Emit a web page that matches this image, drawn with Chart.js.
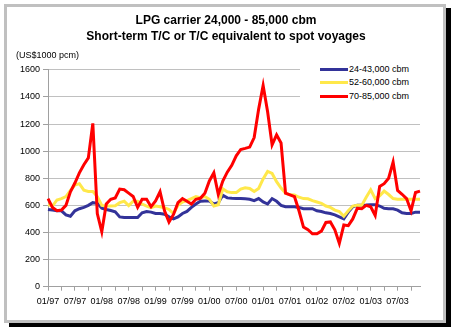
<!DOCTYPE html>
<html>
<head>
<meta charset="utf-8">
<script src="https://cdn.jsdelivr.net/npm/chart.js@4"></script>
<style>
  html, body { margin: 0; padding: 0; background: #fff; width: 452px; height: 328px; overflow: hidden; }
  #frame { position: absolute; left: 4px; top: 4px; width: 436px; height: 313px; border: 3px solid #c0c0c0; box-shadow: 5px 4px 0 0 #000; background: #fff; }
  #c { position: absolute; left: 0; top: 0; }
  #legend { position: absolute; left: 300px; top: 61px; width: 122px; height: 44px; background: #fff; font-family: 'Liberation Sans', Arial, sans-serif; font-size: 9px; color: #000; }
  .row { position: absolute; left: 0; height: 12px; width: 122px; }
  .sw { position: absolute; left: 20px; top: 5px; width: 28px; height: 3px; }
  .tx { position: absolute; left: 49px; top: 0; line-height: 12px; white-space: nowrap; }
</style>
</head>
<body>
<div id="frame"></div>
<canvas id="c" width="452" height="328"></canvas>
<div id="legend"></div>
<script>
const titleLines = ["LPG carrier 24,000 - 85,000 cbm", "Short-term T/C or T/C equivalent to spot voyages"];
const unitLabel = "(US$1000 pcm)";
const seriesNames = ["24-43,000 cbm", "52-60,000 cbm", "70-85,000 cbm"];
const months = [
 "01/97","02/97","03/97","04/97","05/97","06/97","07/97","08/97","09/97","10/97","11/97","12/97",
 "01/98","02/98","03/98","04/98","05/98","06/98","07/98","08/98","09/98","10/98","11/98","12/98",
 "01/99","02/99","03/99","04/99","05/99","06/99","07/99","08/99","09/99","10/99","11/99","12/99",
 "01/00","02/00","03/00","04/00","05/00","06/00","07/00","08/00","09/00","10/00","11/00","12/00",
 "01/01","02/01","03/01","04/01","05/01","06/01","07/01","08/01","09/01","10/01","11/01","12/01",
 "01/02","02/02","03/02","04/02","05/02","06/02","07/02","08/02","09/02","10/02","11/02","12/02",
 "01/03","02/03","03/03","04/03","05/03","06/03","07/03","08/03","09/03","10/03","11/03","12/03"
];
const small = [570,565,560,560,530,520,560,575,585,600, 620,615,580,570,562,552,515,510,510,510,
 510,545,555,550,540,540,535,515,500,515, 540,555,585,610,630,632,632,610,620,675,
 655,652,650,650,648,645,635,650,625,610, 650,630,600,590,590,590,585,575,575,575,
 560,555,545,540,530,515,500,550,590,600, 600,602,605,605,595,578,575,575,565,545,
 540,540,550,550];
const medium = [605,595,640,650,665,710,750,760,712,703, 703,665,600,595,595,597,620,630,598,630,
 630,610,595,583,595,590,583,570,540,600, 625,635,650,665,657,665,645,595,605,722,
 700,694,694,720,730,725,702,725,795,850, 835,775,728,690,678,677,660,650,648,635,
 625,615,595,585,565,555,520,560,595,600, 600,660,715,650,670,705,680,650,645,645,
 645,645,645,645];
const large = [650,585,560,565,600,700,765,840,900,950, 1205,540,405,610,645,655,720,715,690,665,
 585,645,645,590,632,700,560,477,533,620, 650,630,610,645,652,690,780,840,680,780,
 845,895,965,1012,1020,1030,1100,1310,1485,1290, 1046,1120,1060,690,678,664,560,440,420,390,
 390,410,474,478,420,320,455,450,500,578, 575,600,590,525,740,760,800,920,710,682,
 650,560,695,705];
const yTicks = [0,200,400,600,800,1000,1200,1400,1600];
const colors = ["#333399", "#FFE84A", "#FF0000"];

Chart.defaults.font.family = "'Liberation Sans', Arial, sans-serif";
Chart.defaults.color = "#000";

const seriesData = [small, medium, large];
const datasets = seriesData.map((d, i) => ({
  label: seriesNames[i],
  data: d,
  borderColor: colors[i],
  backgroundColor: colors[i],
  borderWidth: 3,
  pointRadius: 0,
  tension: 0,
  fill: false,
  order: 2 - i
}));

const chart = new Chart(document.getElementById('c'), {
  type: 'line',
  data: { labels: months, datasets },
  options: {
    responsive: false,
    animation: false,
    devicePixelRatio: 1,
    layout: { padding: { left: 16, right: 16, top: 4, bottom: 10 } },
    plugins: {
      legend: { display: false },
      tooltip: { enabled: false },
      title: {
        display: true,
        text: titleLines,
        font: { size: 12, weight: 'bold', lineHeight: 1.3333 },
        padding: { top: 9, bottom: 0 }
      },
      subtitle: {
        display: true,
        text: unitLabel,
        align: 'start',
        font: { size: 9, lineHeight: 1.2 },
        padding: { top: 5, bottom: 9 }
      }
    },
    scales: {
      x: {
        type: 'category',
        grid: { drawOnChartArea: false, drawTicks: true, tickLength: 4, color: '#a0a0a0' },
        border: { display: true, color: '#a0a0a0', width: 1 },
        ticks: {
          autoSkip: false, maxRotation: 0, minRotation: 0, padding: 5,
          font: { size: 9 },
          callback: function (v, i) {
            if (i % 6 === 0) return months[i];
            if (i % 3 === 0) return '';
            return null;
          }
        },
        afterFit: s => { s.height = 328 - 10 - 286.7; }
      },
      y: {
        min: 0, max: 1600,
        afterBuildTicks: s => { s.ticks = yTicks.map(v => ({ value: v })); },
        grid: { color: '#c0c0c0', tickLength: 5, tickColor: '#a0a0a0' },
        border: { display: true, color: '#a0a0a0' },
        ticks: { font: { size: 9 }, padding: 3, callback: v => String(v) },
        afterFit: s => { s.width = 32; }
      },
      y2: {
        position: 'right',
        display: true,
        grid: { display: false, drawTicks: false },
        border: { display: false },
        ticks: { display: false },
        afterFit: s => { s.width = 16; }
      }
    }
  }
});

// HTML legend built from the chart's datasets
const lg = document.getElementById('legend');
chart.data.datasets.forEach((ds, i) => {
  const row = document.createElement('div');
  row.className = 'row';
  row.style.top = (2 + i * 13.3) + 'px';
  const sw = document.createElement('span');
  sw.className = 'sw';
  sw.style.background = ds.borderColor;
  const tx = document.createElement('span');
  tx.className = 'tx';
  tx.textContent = ds.label;
  row.appendChild(sw); row.appendChild(tx);
  lg.appendChild(row);
});
</script>
</body>
</html>
